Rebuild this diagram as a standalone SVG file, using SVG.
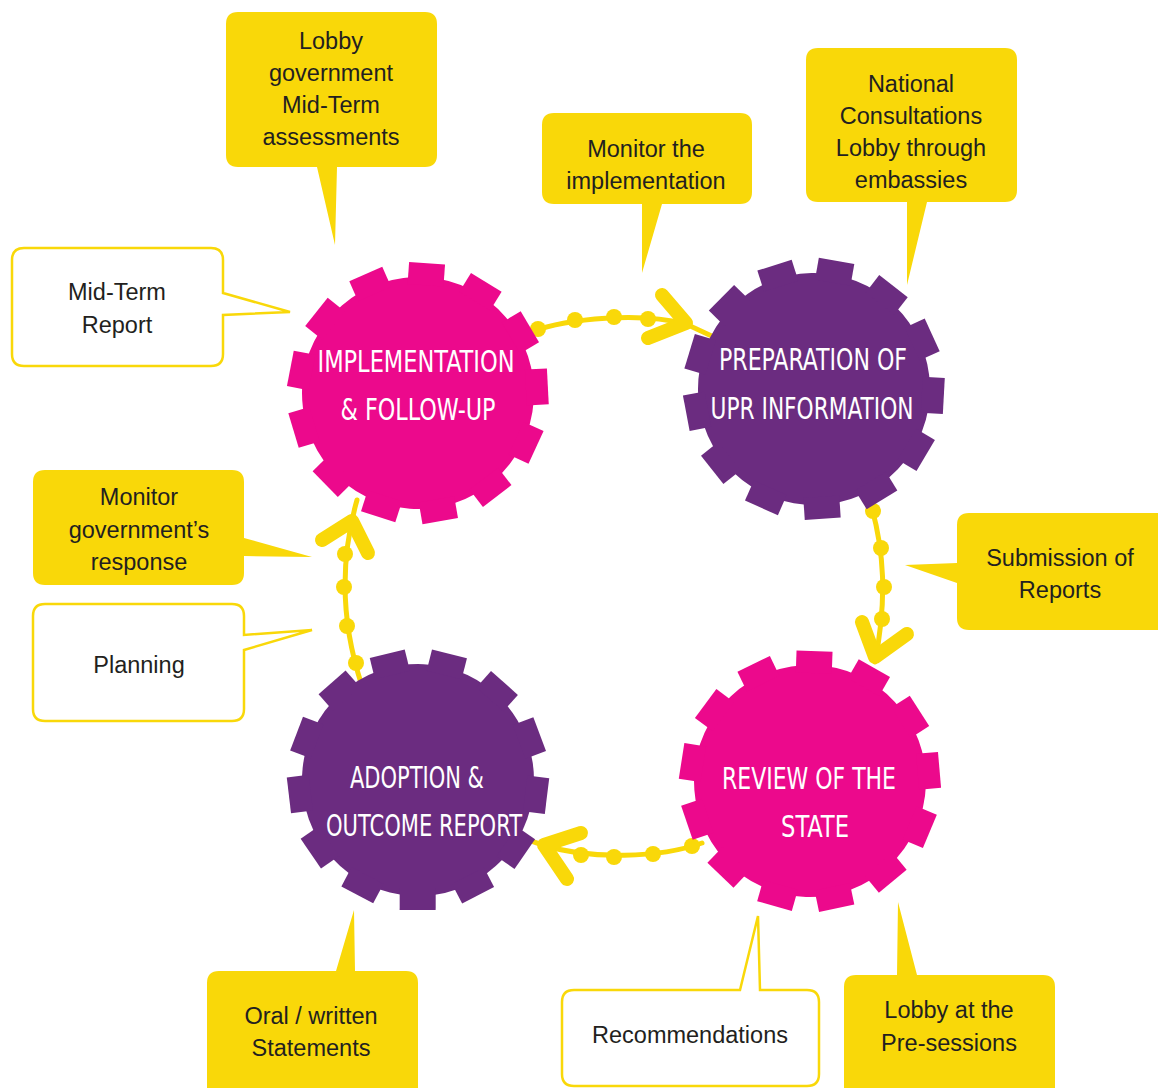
<svg xmlns="http://www.w3.org/2000/svg" xmlns:xlink="http://www.w3.org/1999/xlink" width="1158" height="1088" viewBox="0 0 1158 1088">
<style>
.yb{fill:#F9D809;stroke:none}
.wb{fill:#FFFFFF;stroke:#F9D809;stroke-width:2.5}
.ct{font-family:"Liberation Sans",Arial,sans-serif;font-size:23.5px;fill:#231F20;text-anchor:middle}
.gt{font-family:"DejaVu Sans Condensed","DejaVu Sans",sans-serif;font-size:30px;fill:#FFFFFF;text-anchor:middle}
.cl{fill:none;stroke:#F9D809;stroke-width:5;stroke-linecap:round}
.dot{fill:#F9D809}
.chev{fill:none;stroke:#F9D809;stroke-width:14;stroke-linecap:round;stroke-linejoin:round}
</style>
<defs>
<g id="gear">
<circle r="116"/>
<rect x="-18" y="-130" width="36" height="22" transform="rotate(0)"/>
<rect x="-18" y="-130" width="36" height="22" transform="rotate(27.69)"/>
<rect x="-18" y="-130" width="36" height="22" transform="rotate(55.38)"/>
<rect x="-18" y="-130" width="36" height="22" transform="rotate(83.08)"/>
<rect x="-18" y="-130" width="36" height="22" transform="rotate(110.77)"/>
<rect x="-18" y="-130" width="36" height="22" transform="rotate(138.46)"/>
<rect x="-18" y="-130" width="36" height="22" transform="rotate(166.15)"/>
<rect x="-18" y="-130" width="36" height="22" transform="rotate(193.85)"/>
<rect x="-18" y="-130" width="36" height="22" transform="rotate(221.54)"/>
<rect x="-18" y="-130" width="36" height="22" transform="rotate(249.23)"/>
<rect x="-18" y="-130" width="36" height="22" transform="rotate(276.92)"/>
<rect x="-18" y="-130" width="36" height="22" transform="rotate(304.62)"/>
<rect x="-18" y="-130" width="36" height="22" transform="rotate(332.31)"/>
</g>
</defs>
<rect width="1158" height="1088" fill="#FFFFFF"/>

<g id="connectors">
<g id="c1">
<path class="cl" d="M 530,332 C 570,318 640,312 686,324 L 716,338"/>
<circle class="dot" cx="538" cy="329" r="8"/>
<circle class="dot" cx="575" cy="320" r="8"/>
<circle class="dot" cx="614" cy="317" r="8"/>
<circle class="dot" cx="648" cy="319" r="8"/>
<polyline class="chev" points="662,295 686,323 648,338"/>
</g>
<g id="c2">
<path class="cl" d="M 869,498 C 885,550 887,600 875,662"/>
<circle class="dot" cx="873" cy="511" r="8"/>
<circle class="dot" cx="881" cy="548" r="8"/>
<circle class="dot" cx="884" cy="587" r="8"/>
<circle class="dot" cx="882" cy="619" r="8"/>
<polyline class="chev" points="862,622 875,657 907,634"/>
</g>
<g id="c3">
<path class="cl" d="M 702,843 C 660,858 590,860 543,845 L 522,838"/>
<circle class="dot" cx="692" cy="846" r="8"/>
<circle class="dot" cx="653" cy="854" r="8"/>
<circle class="dot" cx="614" cy="857" r="8"/>
<circle class="dot" cx="581" cy="855" r="8"/>
<polyline class="chev" points="581,833 544,845 567,879"/>
</g>
<g id="c4">
<path class="cl" d="M 362,686 C 340,620 340,560 357,500"/>
<circle class="dot" cx="356" cy="663" r="8"/>
<circle class="dot" cx="347" cy="626" r="8"/>
<circle class="dot" cx="344" cy="587" r="8"/>
<circle class="dot" cx="345" cy="554" r="8"/>
<polyline class="chev" points="322,540 352,521 368,553"/>
</g>
</g>

<g id="gear-implementation">
<use xlink:href="#gear" href="#gear" transform="translate(418,393) rotate(4)" fill="#EC098C"/>
<text class="gt" x="416" y="372" textLength="197" lengthAdjust="spacingAndGlyphs">IMPLEMENTATION</text>
<text class="gt" x="418" y="420" textLength="155" lengthAdjust="spacingAndGlyphs">&amp; FOLLOW-UP</text>
</g>
<g id="gear-preparation">
<use xlink:href="#gear" href="#gear" transform="translate(814,389) rotate(10)" fill="#6B2C80"/>
<text class="gt" x="813" y="370" textLength="188" lengthAdjust="spacingAndGlyphs">PREPARATION OF</text>
<text class="gt" x="812" y="419" textLength="203" lengthAdjust="spacingAndGlyphs">UPR INFORMATION</text>
</g>
<g id="gear-review">
<use xlink:href="#gear" href="#gear" transform="translate(810,781) rotate(2)" fill="#EC098C"/>
<text class="gt" x="809" y="789" textLength="174" lengthAdjust="spacingAndGlyphs">REVIEW OF THE</text>
<text class="gt" x="815" y="837" textLength="68" lengthAdjust="spacingAndGlyphs">STATE</text>
</g>
<g id="gear-adoption">
<use xlink:href="#gear" href="#gear" transform="translate(418,780) rotate(14)" fill="#6B2C80"/>
<text class="gt" x="417" y="788" textLength="134" lengthAdjust="spacingAndGlyphs">ADOPTION &amp;</text>
<text class="gt" x="424" y="836" textLength="196" lengthAdjust="spacingAndGlyphs">OUTCOME REPORT</text>
</g>

<g id="callout-lobby-gov">
<path class="yb" d="M 238,12 H 425 Q 437,12 437,24 V 155 Q 437,167 425,167 H 337 L 335,245 L 317,167 H 238 Q 226,167 226,155 V 24 Q 226,12 238,12 Z"/>
<text class="ct" x="331" y="49">Lobby</text>
<text class="ct" x="331" y="81">government</text>
<text class="ct" x="331" y="113">Mid-Term</text>
<text class="ct" x="331" y="145">assessments</text>
</g>
<g id="callout-monitor-impl">
<path class="yb" d="M 554,113 H 740 Q 752,113 752,125 V 192 Q 752,204 740,204 H 662 L 642,273 L 642,204 H 554 Q 542,204 542,192 V 125 Q 542,113 554,113 Z"/>
<text class="ct" x="646" y="157">Monitor the</text>
<text class="ct" x="646" y="189">implementation</text>
</g>
<g id="callout-national">
<path class="yb" d="M 818,48 H 1005 Q 1017,48 1017,60 V 190 Q 1017,202 1005,202 H 927 L 907,285 L 907,202 H 818 Q 806,202 806,190 V 60 Q 806,48 818,48 Z"/>
<text class="ct" x="911" y="92">National</text>
<text class="ct" x="911" y="124">Consultations</text>
<text class="ct" x="911" y="156">Lobby through</text>
<text class="ct" x="911" y="188">embassies</text>
</g>
<g id="callout-submission">
<path class="yb" d="M 969,513 H 1170 V 630 H 969 Q 957,630 957,618 V 583 L 905,565 L 957,563 V 525 Q 957,513 969,513 Z"/>
<text class="ct" x="1060" y="566">Submission of</text>
<text class="ct" x="1060" y="598">Reports</text>
</g>
<g id="callout-midterm-report">
<path class="wb" d="M 24,248 H 211 Q 223,248 223,260 V 293 L 290,312 L 223,315 V 354 Q 223,366 211,366 H 24 Q 12,366 12,354 V 260 Q 12,248 24,248 Z"/>
<text class="ct" x="117" y="300">Mid-Term</text>
<text class="ct" x="117" y="333">Report</text>
</g>
<g id="callout-monitor-gov">
<path class="yb" d="M 45,470 H 232 Q 244,470 244,482 V 538 L 312,557 L 244,556 V 573 Q 244,585 232,585 H 45 Q 33,585 33,573 V 482 Q 33,470 45,470 Z"/>
<text class="ct" x="139" y="505">Monitor</text>
<text class="ct" x="139" y="538">government’s</text>
<text class="ct" x="139" y="570">response</text>
</g>
<g id="callout-planning">
<path class="wb" d="M 45,604 H 232 Q 244,604 244,616 V 635 L 312,630 L 244,650 V 709 Q 244,721 232,721 H 45 Q 33,721 33,709 V 616 Q 33,604 45,604 Z"/>
<text class="ct" x="139" y="673">Planning</text>
</g>
<g id="callout-oral">
<path class="yb" d="M 219,971 H 336 L 354,910 L 355,971 H 406 Q 418,971 418,983 V 1100 H 207 V 983 Q 207,971 219,971 Z"/>
<text class="ct" x="311" y="1024">Oral / written</text>
<text class="ct" x="311" y="1056">Statements</text>
</g>
<g id="callout-recommendations">
<path class="wb" d="M 574,990 H 740 L 758,916 L 760,990 H 807 Q 819,990 819,1002 V 1074 Q 819,1086 807,1086 H 574 Q 562,1086 562,1074 V 1002 Q 562,990 574,990 Z"/>
<text class="ct" x="690" y="1043">Recommendations</text>
</g>
<g id="callout-presessions">
<path class="yb" d="M 856,975 H 897 L 898,902 L 917,975 H 1043 Q 1055,975 1055,987 V 1100 H 844 V 987 Q 844,975 856,975 Z"/>
<text class="ct" x="949" y="1018">Lobby at the</text>
<text class="ct" x="949" y="1051">Pre-sessions</text>
</g>
</svg>
